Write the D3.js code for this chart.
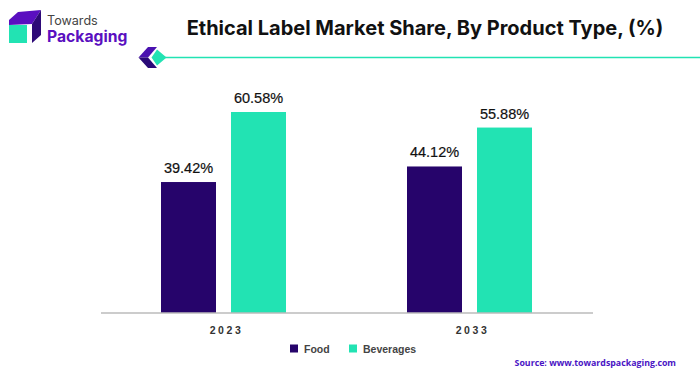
<!DOCTYPE html>
<html>
<head>
<meta charset="utf-8">
<script src="https://cdnjs.cloudflare.com/ajax/libs/d3/7.8.5/d3.min.js"></script>
<style>
	html, body {margin: 0; padding: 0; background: #fff;}
	svg {display: block;}
	text {font-family: "Liberation Sans", Arial, sans-serif;}
</style>
</head>
<body>
<div class="container"></div>
<script>
var years = ['2023', '2033'];
var seriesNames = ['Food', 'Beverages'];
var foodValues = [39.42, 44.12];
var beverageValues = [60.58, 55.88];

var WIDTH = 700, HEIGHT = 376;
var PURPLE = '#26046b', TEAL = '#22e3b3';
var colors = [PURPLE, TEAL];

var svg = d3.select('.container').append('svg')
	.attr('width', WIDTH)
	.attr('height', HEIGHT);

var xScale = d3.scaleBand().domain(years).range([100.5, 592.5]);
var groupScale = d3.scaleBand().domain(seriesNames)
	.range([xScale.bandwidth() / 2 - 62.5, xScale.bandwidth() / 2 + 62.5])
	.paddingInner(15 / 70);
var yScale = d3.scaleLinear().domain([0, 60.58]).range([312.5, 112]);

var appendLogo = function() {
	var logo = svg.append('g');
	logo.append('path').attr('d', 'M9 20 L18 12 L41 10 L32 24 L9 25 Z').attr('fill', '#5a0fc0');
	logo.append('path').attr('d', 'M32 24 L41 10 L41 35 L32 43 Z').attr('fill', '#2e0a78');
	logo.append('rect').attr('x', 9).attr('y', 25).attr('width', 18).attr('height', 18).attr('fill', TEAL);
	logo.append('text').attr('x', 47).attr('y', 25)
		.attr('font-size', 12.6).attr('fill', '#444')
		.style('font-family', 'Inter, sans-serif').text('Towards');
	logo.append('text').attr('x', 47).attr('y', 42)
		.attr('font-size', 15.7).attr('font-weight', 700).attr('fill', '#5a0fc0')
		.style('font-family', 'Inter, sans-serif').text('Packaging');
}

var appendHeader = function() {
	svg.append('text').attr('x', 425).attr('y', 35)
		.attr('text-anchor', 'middle')
		.attr('font-size', 20).attr('font-weight', 700).attr('fill', '#111')
		.style('font-family', 'Inter, sans-serif')
		.text('Ethical Label Market Share, By Product Type, (%)');
	svg.append('line').attr('x1', 160).attr('x2', 700).attr('y1', 57.5).attr('y2', 57.5)
		.attr('stroke', TEAL).attr('stroke-width', 1.5);
	svg.append('path').attr('d', 'M138.5 57.5 L148 47 L157 47 L148 57.5 Z').attr('fill', '#4a12b0');
	svg.append('path').attr('d', 'M138.5 57.5 L148 57.5 L157 68 L148 68 Z').attr('fill', '#2a0a78');
	svg.append('path').attr('d', 'M157 49.5 L166.5 57.5 L157 65.5 L151.5 57.5 Z').attr('fill', TEAL);
}

var appendBars = function(values, name, index) {
	var group = svg.append('g').attr('class', 'series-' + index);
	group.selectAll('rect').data(values).enter().append('rect')
		.attr('x', function(d, i) {return xScale(years[i]) + groupScale(name)})
		.attr('y', function(d) {return yScale(d)})
		.attr('width', groupScale.bandwidth())
		.attr('height', function(d) {return yScale(0) - yScale(d)})
		.attr('fill', colors[index]);
	group.selectAll('text').data(values).enter().append('text')
		.attr('x', function(d, i) {return xScale(years[i]) + groupScale(name) + groupScale.bandwidth() / 2})
		.attr('y', function(d) {return yScale(d) - 9})
		.attr('text-anchor', 'middle')
		.attr('font-size', 14.5).attr('fill', '#111')
		.attr('stroke', '#111').attr('stroke-width', 0.2)
		.text(function(d) {return d.toFixed(2) + '%'});
}

var appendAxis = function() {
	var axis = svg.append('g')
		.attr('transform', 'translate(0,' + yScale(0) + ')')
		.call(d3.axisBottom(xScale).tickSize(0).tickPadding(14));
	axis.select('.domain').attr('stroke', '#999').attr('stroke-width', 1.2);
	axis.selectAll('text')
		.attr('x', 3)
		.attr('font-size', 10.5).attr('font-weight', 700).attr('fill', '#333')
		.style('font-family', '"Liberation Sans", sans-serif')
		.style('letter-spacing', '2.6px');
}

var appendLegend = function() {
	var xPositions = [290, 349];
	var legend = svg.selectAll('.legend').data(seriesNames).enter().append('g')
		.attr('class', 'legend')
		.attr('transform', function(d, i) {return 'translate(' + xPositions[i] + ',344.5)'});
	legend.append('rect').attr('width', 8).attr('height', 8)
		.attr('fill', function(d, i) {return colors[i]});
	legend.append('text').attr('x', 14).attr('y', 8)
		.attr('font-size', 10.5).attr('font-weight', 700).attr('fill', '#444')
		.text(function(d) {return d});
}

var appendSource = function() {
	svg.append('text').attr('x', 676).attr('y', 366)
		.attr('text-anchor', 'end')
		.attr('font-size', 8.8).attr('font-weight', 700).attr('fill', '#4a14c4')
		.style('font-family', '"Open Sans", sans-serif')
		.text('Source: www.towardspackaging.com');
}

appendLogo();
appendHeader();
appendBars(foodValues, seriesNames[0], 0);
appendBars(beverageValues, seriesNames[1], 1);
appendAxis();
appendLegend();
appendSource();
</script>
</body>
</html>
